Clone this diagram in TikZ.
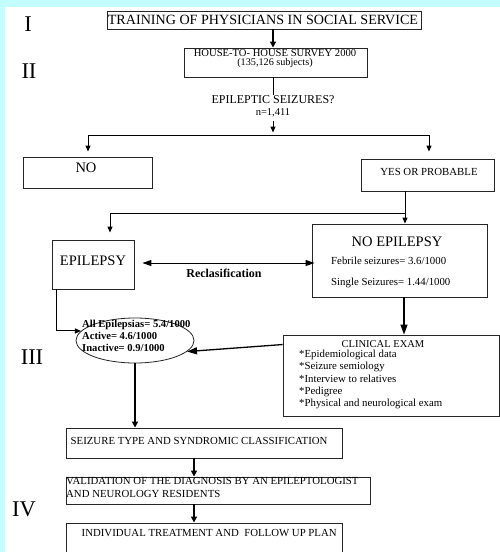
\documentclass[tikz,border=0pt]{standalone}
\usepackage{fontspec}
\setmainfont{Liberation Serif}
\usetikzlibrary{arrows.meta,shapes.geometric,calc,fit}
\definecolor{bgcyan}{RGB}{196,255,255}
\begin{document}
\begin{tikzpicture}[x=1pt,y=-1pt,
  box/.style={draw=black!85, line width=0.9pt, rectangle, inner sep=0pt},
  txt/.style={inner sep=0pt, font=\fontsize{10.8}{12}\selectfont},
  bigtxt/.style={inner sep=0pt, font=\fontsize{14.5}{16}\selectfont},
  roman/.style={inner sep=0pt, font=\fontsize{22.5}{24}\selectfont},
  conn/.style={line width=1pt},
  arr/.style={line width=1pt, -{Triangle[length=6pt,width=5pt]}},
  thickarr/.style={line width=1.5pt, -{Triangle[length=6pt,width=6pt]}},
  bigarr/.style={line width=1.3pt, -{Triangle[length=10pt,width=7pt]}},
  dblarr/.style={line width=1pt, {Triangle[length=9pt,width=6pt]}-{Triangle[length=9pt,width=6pt]}}
]
\useasboundingbox (0,0) rectangle (500,552);
\fill[bgcyan] (0,0) rectangle (500,552);
\fill[white] (5,7) rectangle (500,552);

% roman numerals
\node[roman] (r1) at (28,24) {I};
\node[roman] (r2) at (29,71) {II};
\node[roman] (r3) at (32,357) {III};
\node[roman] (r4) at (24,509) {IV};

% boxes
\node[box, fit={(107,11) (421,29)}] (train) {};
\node[txt, font=\fontsize{14.1}{15}\selectfont] (traint) at (263,20) {TRAINING OF PHYSICIANS IN SOCIAL SERVICE};

\node[box, fit={(184,48) (367,77)}] (house) {};
\node[txt, font=\fontsize{10.6}{11}\selectfont] (houset1) at (275,53.5) {HOUSE-TO- HOUSE SURVEY 2000};
\node[txt, font=\fontsize{10.2}{11}\selectfont] (houset2) at (275,63.5) {(135,126 subjects)};

\node[inner sep=0pt, font=\fontsize{12}{13}\selectfont, anchor=north] (q) at (273,95) {EPILEPTIC SEIZURES?};
\node[inner sep=0pt, font=\fontsize{10.5}{11}\selectfont] (n) at (273,113) {n=1,411};

\node[box, fit={(23,157) (152,188)}] (no) {};
\node[bigtxt] (not) at (86,168) {NO};

\node[box, fit={(361,159) (494,191)}] (yes) {};
\node[txt] (yest) at (429,172) {YES OR PROBABLE};

\node[box, fit={(52,240) (134,289)}] (epi) {};
\node[bigtxt] (epit) at (93,261) {EPILEPSY};

\node[box, fit={(312,224) (487,297)}] (noep) {};
\node[bigtxt] (noept) at (397,242) {NO EPILEPSY};
\node[txt, anchor=west] (feb) at (331,261) {Febrile seizures= 3.6/1000};
\node[txt, anchor=west] (sing) at (331,283) {Single Seizures= 1.44/1000};

\node[inner sep=0pt, font=\bfseries\fontsize{12}{13}\selectfont] (recl) at (224,273) {Reclasification};

\node[draw=black!85, line width=0.8pt, ellipse, minimum width=118pt, minimum height=45pt, inner sep=0pt] (ell) at (135,340.5) {};
\node[inner sep=0pt, anchor=west, align=left, font=\bfseries\fontsize{10.6}{12}\selectfont] (ellt) at (82,335.5) {All Epilepsias= 5.4/1000\\Active= 4.6/1000\\Inactive= 0.9/1000};

\node[box, fit={(283,335) (499,416)}] (clin) {};
\node[txt, font=\fontsize{10.5}{11}\selectfont] (clint) at (383,344.5) {CLINICAL EXAM};
\node[txt, anchor=north west, align=left, font=\fontsize{10.8}{12.2}\selectfont] (clini) at (299,350) {*Epidemiological data\\*Seizure semiology\\*Interview to relatives\\*Pedigree\\*Physical and neurological exam};

\node[box, fit={(66,428) (342,458)}] (seiz) {};
\node[txt, anchor=west] (seizt) at (70.5,441) {SEIZURE TYPE AND SYNDROMIC CLASSIFICATION};

\node[box, fit={(66,477) (370,504)}] (val) {};
\node[txt, anchor=north west, align=left, font=\fontsize{10.8}{13}\selectfont] (valt) at (66,477.5) {VALIDATION OF THE DIAGNOSIS BY AN EPILEPTOLOGIST\\AND NEUROLOGY RESIDENTS};

\node[box, fit={(66,523) (342,553)}] (ind) {};
\node[txt, anchor=west] (indt) at (81.5,533) {INDIVIDUAL TREATMENT AND\ \ FOLLOW UP PLAN};

% connectors
\draw[thickarr] (train.south -| 273,0) -- (house.north -| 273,0);
\draw[conn] (house.south -| q.north) -- (q.north);
\coordinate (splitc) at (273,135);
\coordinate (bl) at (88,135);
\coordinate (br) at (429,135);
\draw[arr] (n.south) ++(0,4) -- ($(splitc)+(0,-2.5)$);
\draw[conn] (bl) -- (br);
\draw[arr, shorten >=5pt] (bl) -- (bl |- no.north);
\draw[arr, shorten >=7pt] (br) -- (br |- yes.north);

\coordinate (ydown) at (405,191);
\coordinate (yjoin) at (405,213);
\coordinate (ljoin) at (110,213);
\draw[conn] (ydown) -- (yjoin) -- (ljoin);
\draw[arr, shorten >=7pt] (ljoin) -- (ljoin |- epi.north);
\draw[arr] (yjoin) -- (yjoin |- noep.north);

\draw[dblarr, shorten <=8pt, shorten >=-3pt] (epi.east |- 0,263) -- (noep.west |- 0,263);

\coordinate (edown) at (56,289);
\draw[arr] (edown) |- (ell.170);

\coordinate (ndown) at (404,297);
\draw[bigarr] (ndown) -- (ndown |- clin.north);
\draw[bigarr] ($(clin.north west)+(0,10)$) -- (ell.-12);

\draw[thickarr] (ell.south) -- (ell.south |- seiz.north);
\coordinate (sdown) at (194,458);
\draw[thickarr] (sdown) -- (sdown |- val.north);
\coordinate (vdown) at (194,504);
\draw[thickarr] (vdown) -- (vdown |- ind.north);
\end{tikzpicture}
\end{document}
